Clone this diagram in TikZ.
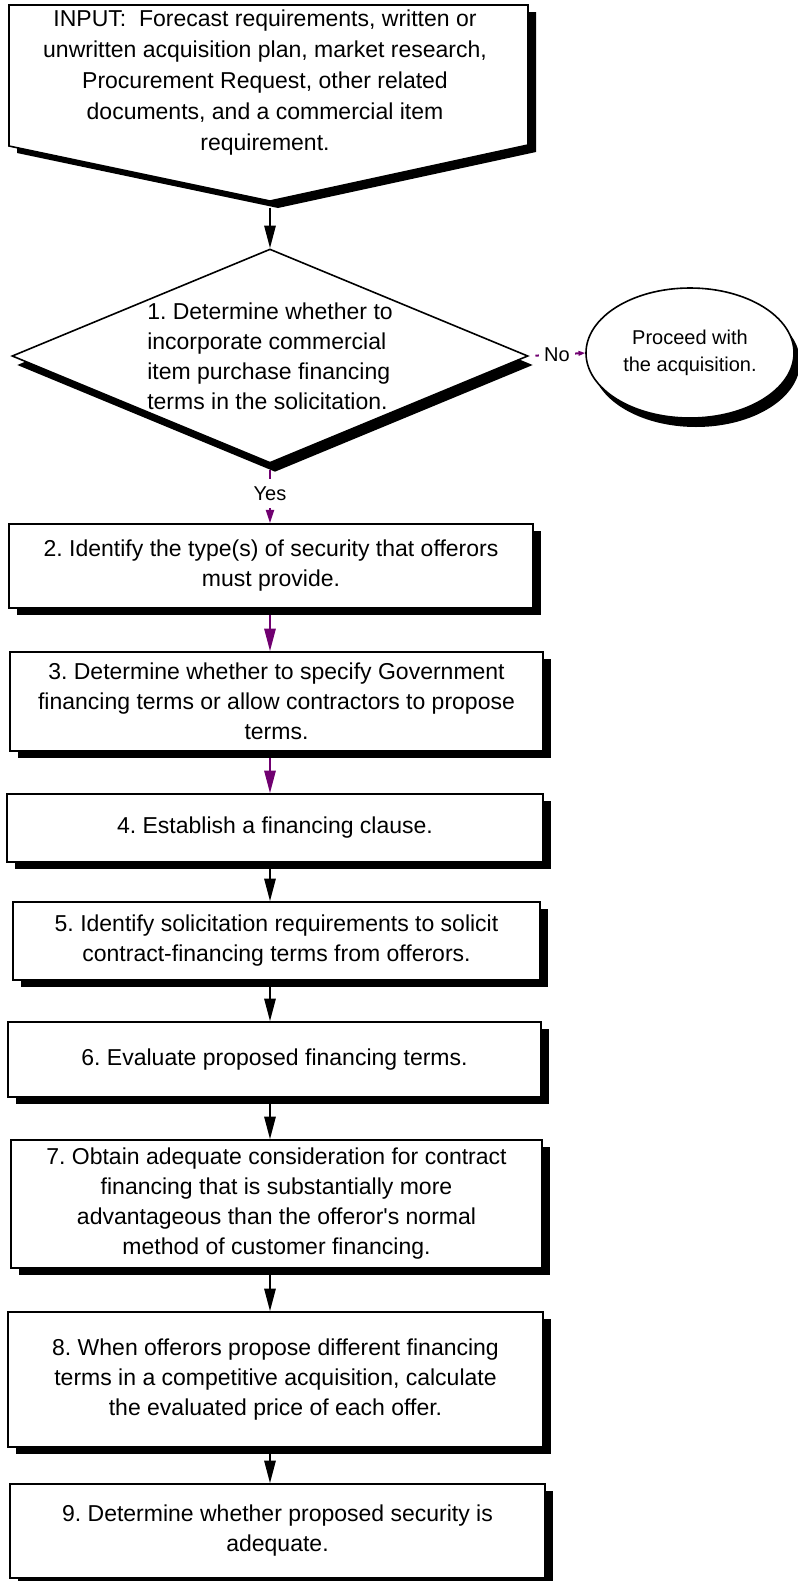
\documentclass[tikz,border=0pt]{standalone}
\usepackage{fontspec}
\setmainfont{Liberation Sans}
\usetikzlibrary{
    calc,
    arrows.meta,
    shapes.geometric,
    shadows,
    positioning
}
\definecolor{flowpurple}{RGB}{112,0,112}
\newcommand{\boxfont}{\fontsize{17.25pt}{22.5pt}\selectfont}
\newcommand{\labelfont}{\fontsize{15pt}{20pt}\selectfont}
\frenchspacing

\begin{document}
\begin{tikzpicture}[
        x=0.75pt, y=-0.75pt,
        box shadow/.style={drop shadow={shadow xshift=6pt, shadow yshift=-5.25pt, opacity=1, fill=black}},
        task box/.style={draw, line width=1.2pt, fill=white, box shadow, align=center, font=\boxfont, inner sep=0pt},
        decision/.style={diamond, draw, line width=1.2pt, fill=white, align=left, font=\boxfont,
            inner xsep=-3pt, inner ysep=0pt, aspect=2.41,
            drop shadow={shadow xshift=3.75pt, shadow yshift=-6.75pt, opacity=1, fill=black}},
        terminal/.style={ellipse, draw, line width=1.2pt, fill=white, align=center, font=\labelfont, inner sep=0pt,
            drop shadow={shadow xshift=4.5pt, shadow yshift=-6.75pt, opacity=1, fill=black}},
        flow/.style={line width=1.5pt, shorten <=5pt, -{Triangle[length=17pt, width=8.5pt]}},
        purple flow/.style={flow, draw=flowpurple},
        branch label/.style={font=\labelfont, fill=white, inner xsep=4pt, inner ysep=6pt}
    ]
    \useasboundingbox (0,0) rectangle (798,1581);
    \coordinate (axis) at (270,0);

    % input
    \coordinate (in tip) at (270,201);
    \draw[line width=1.2pt, fill=white, box shadow] (9,5) -- (528,5) -- (528,145) -- (in tip) -- (9,146) -- cycle;
    \node[font=\fontsize{17.25pt}{23.25pt}\selectfont, align=center] (input) at (265,83)
        {INPUT:\ \ Forecast requirements, written or\\ unwritten acquisition plan, market research,\\
         Procurement Request, other related\\ documents, and a commercial item\\ requirement.};

    \node[decision, minimum width=387pt, minimum height=160.5pt] (d1) at (270,356)
        {1. Determine whether to\\ incorporate commercial\\ item purchase financing\\ terms in the solicitation.};
    \node[terminal, minimum width=156pt, minimum height=97.5pt] (proceed) at (690,353)
        {Proceed with\\ the acquisition.};

    \node[task box, minimum width=393pt, minimum height=63pt] (b2) at (271,566)
        {2. Identify the type(s) of security that offerors\\ must provide.};
    \node[task box, minimum width=399.75pt, minimum height=74.25pt] (b3) at (276.5,701.5)
        {3. Determine whether to specify Government\\ financing terms or allow contractors to propose\\ terms.};
    \node[task box, minimum width=402pt, minimum height=51pt] (b4) at (275,828)
        {4. Establish a financing clause.};
    \node[task box, minimum width=395.25pt, minimum height=58.5pt] (b5) at (276.5,941)
        {5. Identify solicitation requirements to solicit\\ contract-financing terms from offerors.};
    \node[task box, minimum width=399.75pt, minimum height=56.25pt] (b6) at (274.5,1059.5)
        {6. Evaluate proposed financing terms.};
    \node[task box, minimum width=398.25pt, minimum height=96pt] (b7) at (276.5,1204)
        {7. Obtain adequate consideration for contract\\ financing that is substantially more\\
         advantageous than the offeror\textquotesingle s normal\\ method of customer financing.};
    \node[task box, minimum width=401.25pt, minimum height=101.25pt] (b8) at (275.5,1379.5)
        {8. When offerors propose different financing\\ terms in a competitive acquisition, calculate\\
         the evaluated price of each offer.};
    \node[task box, minimum width=401.25pt, minimum height=70.5pt] (b9) at (277.5,1531)
        {9. Determine whether proposed security is\\ adequate.};

    \draw[flow] (in tip) -- (d1.north);
    \draw[purple flow, -{Triangle[length=10pt, width=6pt]}] (d1.south)
        -- node[branch label] {Yes} (b2.north -| d1.south);
    \draw[purple flow, -{Triangle[length=5pt, width=3.5pt]}] (d1.east)
        -- node[branch label, inner ysep=2pt] {No} (proceed.west);
    \foreach \a/\b in {b2/b3, b3/b4} {
        \draw[purple flow] (\a.south -| axis) -- (\b.north -| axis);
    }
    \foreach \a/\b in {b4/b5, b5/b6, b6/b7, b7/b8, b8/b9} {
        \draw[flow] (\a.south -| axis) -- (\b.north -| axis);
    }
\end{tikzpicture}
\end{document}
